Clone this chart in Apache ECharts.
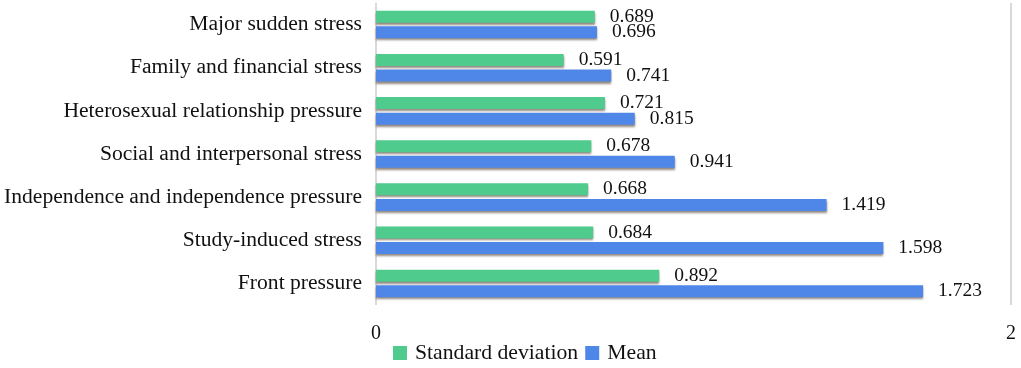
<!DOCTYPE html>
<html>
<head>
<meta charset="utf-8">
<script src="https://cdn.jsdelivr.net/npm/echarts@6/dist/echarts.min.js"></script>
<style>
  html, body { margin: 0; padding: 0; background: #fff; }
  #chart { width: 1021px; height: 368px; }
</style>
</head>
<body>
<div id="chart"></div>
<script>
// categories listed bottom to top
const categories = [
  'Front pressure',
  'Study-induced stress',
  'Independence and independence pressure',
  'Social and interpersonal stress',
  'Heterosexual relationship pressure',
  'Family and financial stress',
  'Major sudden stress'
];
const stdDev = [0.892, 0.684, 0.668, 0.678, 0.721, 0.591, 0.689];
const mean = [1.723, 1.598, 1.419, 0.941, 0.815, 0.741, 0.696];
const seriesNames = ['Standard deviation', 'Mean'];

const font = 'Liberation Serif';

const chart = echarts.init(document.getElementById('chart'));

const barStyle = (color) => ({
  color: color,
  shadowColor: 'rgba(60, 40, 30, 0.55)',
  shadowBlur: 2,
  shadowOffsetY: 2
});

const valueLabel = {
  show: true,
  position: 'right',
  distance: 15,
  color: '#111',
  fontFamily: font,
  fontSize: 19.5,
  formatter: (p) => p.value.toFixed(3)
};

chart.setOption({
  backgroundColor: '#fff',
  animation: false,
  grid: {
    left: 376,
    right: 10,
    top: 3,
    bottom: 63
  },
  legend: {
    data: seriesNames,
    left: 388,
    top: 337,
    itemWidth: 14,
    itemHeight: 14,
    itemGap: 7,
    icon: 'rect',
    textStyle: {
      fontFamily: font,
      fontSize: 21.7,
      color: '#111',
      padding: [0, 0, 0, 3]
    }
  },
  xAxis: {
    type: 'value',
    min: 0,
    max: 2,
    interval: 2,
    axisLine: { show: false },
    axisTick: { show: false },
    splitLine: {
      show: true,
      lineStyle: { color: '#d9d9d9', width: 2 }
    },
    axisLabel: {
      color: '#111',
      fontFamily: font,
      fontSize: 20,
      margin: 19
    }
  },
  yAxis: {
    type: 'category',
    data: categories,
    axisLine: { show: false },
    axisTick: { show: false },
    axisLabel: {
      color: '#111',
      fontFamily: font,
      fontSize: 21.6,
      margin: 14
    }
  },
  series: [
    {
      name: seriesNames[0],
      type: 'bar',
      data: stdDev,
      barWidth: 12,
      barGap: '30%',
      itemStyle: barStyle('#4ecb8d'),
      label: valueLabel
    },
    {
      name: seriesNames[1],
      type: 'bar',
      data: mean,
      barWidth: 12,
      barGap: '30%',
      itemStyle: barStyle('#4f87e8'),
      label: valueLabel
    }
  ]
});
</script>
</body>
</html>
